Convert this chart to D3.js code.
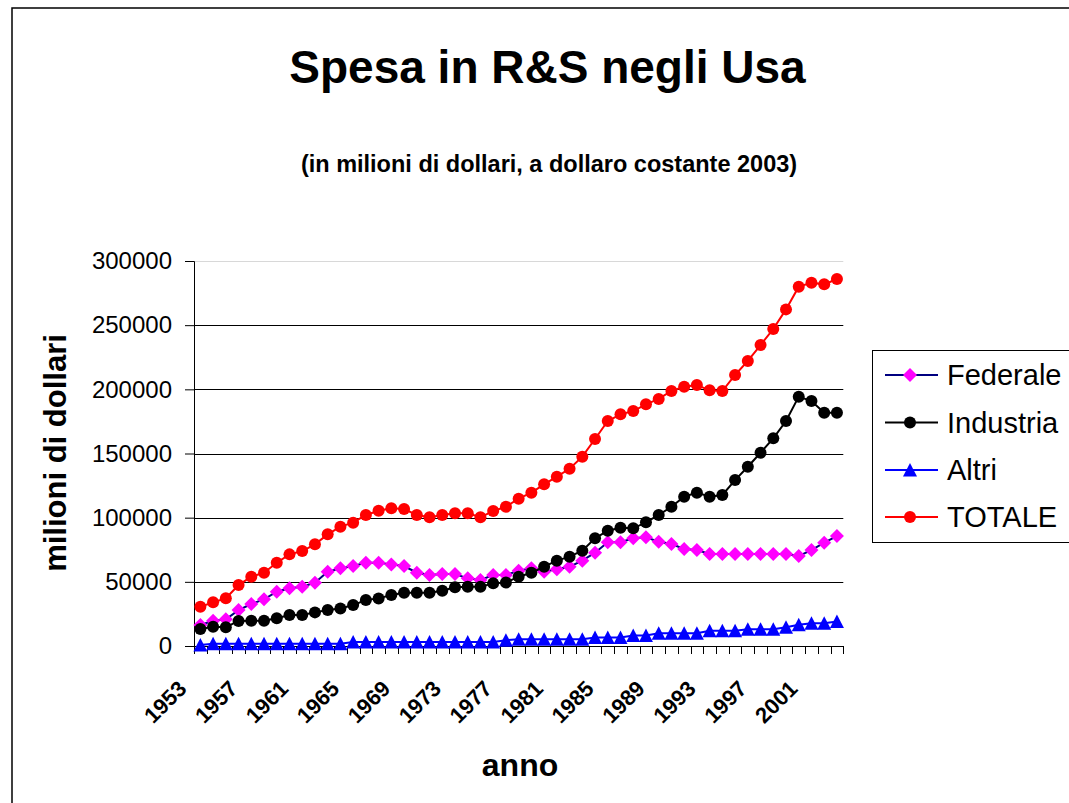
<!DOCTYPE html>
<html><head><meta charset="utf-8">
<script src="https://cdn.jsdelivr.net/npm/d3@7"></script>
<style>html,body{margin:0;padding:0;background:#fff;overflow:hidden}</style>
</head><body>
<svg id="c" width="1069" height="803"></svg>
<script>
const years = [1953,1954,1955,1956,1957,1958,1959,1960,1961,1962,1963,1964,1965,1966,1967,1968,1969,1970,1971,1972,1973,1974,1975,1976,1977,1978,1979,1980,1981,1982,1983,1984,1985,1986,1987,1988,1989,1990,1991,1992,1993,1994,1995,1996,1997,1998,1999,2000,2001,2002,2003];
const federale = [16400,19700,20800,28000,32700,36400,42300,45000,46200,49300,57900,60500,62300,64900,64900,63600,62300,57100,55300,56100,56100,52700,51400,55300,55300,58700,60500,57900,59800,61800,66500,72700,80800,80800,83900,84700,81300,79500,75600,74800,71700,71700,71700,71700,71700,71700,71700,70100,74800,80500,85700];
const industria = [13200,15000,14600,19500,19700,19700,21600,24200,24200,26200,28000,29300,31900,35800,37100,39700,41500,41500,41500,43100,45700,46200,46200,48800,49400,54000,57100,61800,66500,69600,74300,83900,89800,92200,91700,96400,102100,108500,116300,119500,116300,117700,129300,139700,150600,161800,175300,194300,190900,181800,181800];
const altri = [800,1800,1800,1800,1800,1800,1800,1800,1800,1800,1800,1800,3200,3200,3200,3200,3200,3200,3200,3200,3200,3200,3200,3200,4500,5300,5300,5300,5300,5300,5300,6600,6600,6600,8200,8200,10000,10000,10000,10000,11800,11800,11800,13100,13100,13100,14600,16500,17800,17800,19100];
const totale = [30600,34000,37200,47500,54000,57100,64900,71400,74000,79200,87000,93000,96100,102100,105400,107300,106700,102100,100300,102100,103400,103400,100300,105200,108500,114800,119500,126000,131900,138200,147500,161300,175300,180500,183100,188300,192500,198700,202100,203400,199200,198700,211200,222100,234500,247000,262300,280000,283100,281800,286000];
const yTicks = [0,50000,100000,150000,200000,250000,300000];
const xLabelYears = [1953,1957,1961,1965,1969,1973,1977,1981,1985,1989,1993,1997,2001];
const seriesNames = ["Federale","Industria","Altri","TOTALE"];

const series = [
  {name: seriesNames[0], values: federale, line: "#000080", fill: "#FF00FF", shape: "diamond"},
  {name: seriesNames[1], values: industria, line: "#000000", fill: "#000000", shape: "circle"},
  {name: seriesNames[2], values: altri, line: "#0000FF", fill: "#0000FF", shape: "triangle"},
  {name: seriesNames[3], values: totale, line: "#FF0000", fill: "#FF0000", shape: "circle"}
];

const svg = d3.select("#c");
const FONT = "'Liberation Sans', Arial, sans-serif";
const L = 194, R = 843.3, T = 261, B = 646;

// chart border
svg.append("rect").attr("x",12).attr("y",8).attr("width",1200).attr("height",900)
  .attr("fill","#fff").attr("stroke","#000").attr("stroke-width",1.5);

const x = d3.scaleBand().domain(years).range([L, R]);
const y = d3.scaleLinear().domain([0,300000]).range([B, T]);

// gridlines
svg.append("g").selectAll("line").data(yTicks.filter(d=>d>0)).join("line")
  .attr("x1",L).attr("x2",R)
  .attr("y1",d=>Math.round(y(d))+0.5).attr("y2",d=>Math.round(y(d))+0.5)
  .attr("stroke",d=>d===300000?"#d8d8d8":"#000").attr("stroke-width",1);

// y axis
const yAxis = svg.append("g").attr("transform",`translate(${L},0)`)
  .call(d3.axisLeft(y).tickValues(yTicks).tickSize(9).tickPadding(13).tickFormat(d3.format("d")));
yAxis.select(".domain").attr("stroke","#000");
yAxis.selectAll(".tick line").attr("stroke","#000");
yAxis.selectAll("text").attr("font-family",FONT).attr("font-size","24px").attr("fill","#000");

// x axis
const xAxisG = svg.append("g").attr("transform",`translate(0,${B})`);
xAxisG.append("line").attr("x1",L).attr("x2",R).attr("y1",0.5).attr("y2",0.5).attr("stroke","#000");
const bounds = years.map(d=>x(d)).concat([R]);
xAxisG.selectAll("line.tk").data(bounds).join("line").attr("class","tk")
  .attr("x1",d=>Math.round(d)+0.5).attr("x2",d=>Math.round(d)+0.5).attr("y1",0).attr("y2",8).attr("stroke","#000");
svg.append("g").selectAll("text").data(xLabelYears).join("text")
  .attr("transform",d=>`translate(${x(d)+x.bandwidth()/2-12.5},690) rotate(-45)`)
  .attr("text-anchor","end").attr("font-family",FONT).attr("font-weight","bold")
  .attr("font-size","22px").text(d=>d);

// series
const cx = d => x(d) + x.bandwidth()/2;
function marker(g, shape, fill, px, py) {
  if (shape === "circle") {
    g.append("circle").attr("cx",px).attr("cy",py).attr("r",6).attr("fill",fill);
  } else if (shape === "diamond") {
    const s = 7;
    g.append("path").attr("d",`M${px},${py-s}L${px+s},${py}L${px},${py+s}L${px-s},${py}Z`).attr("fill",fill);
  } else {
    const w = 7, h = 7;
    g.append("path").attr("d",`M${px},${py-h}L${px+w},${py+h-0.5}L${px-w},${py+h-0.5}Z`).attr("fill",fill);
  }
}
const lineGen = d3.line().x((d,i)=>cx(years[i])).y(d=>y(d));
series.forEach(s => {
  const g = svg.append("g");
  g.append("path").attr("d",lineGen(s.values)).attr("fill","none").attr("stroke",s.line).attr("stroke-width",2);
  s.values.forEach((v,i)=>marker(g, s.shape, s.fill, cx(years[i]), y(v)));
});

// titles
svg.append("text").attr("x",547.5).attr("y",83).attr("text-anchor","middle")
  .attr("font-family",FONT).attr("font-weight","bold").attr("font-size","46px").text("Spesa in R&S negli Usa");
svg.append("text").attr("x",549).attr("y",172).attr("text-anchor","middle")
  .attr("font-family",FONT).attr("font-weight","bold").attr("font-size","23.5px").text("(in milioni di dollari, a dollaro costante 2003)");
svg.append("text").attr("transform","translate(66,453) rotate(-90)").attr("text-anchor","middle")
  .attr("font-family",FONT).attr("font-weight","bold").attr("font-size","31px").text("milioni di dollari");
svg.append("text").attr("x",520).attr("y",776).attr("text-anchor","middle")
  .attr("font-family",FONT).attr("font-weight","bold").attr("font-size","32px").text("anno");

// legend
const lg = svg.append("g");
lg.append("rect").attr("x",872.5).attr("y",350.5).attr("width",300).attr("height",192)
  .attr("fill","#fff").attr("stroke","#000").attr("stroke-width",1);
const rowY = [375, 422.5, 470, 517];
series.forEach((s,i)=>{
  const ry = rowY[i];
  lg.append("line").attr("x1",885).attr("x2",938).attr("y1",ry).attr("y2",ry).attr("stroke",s.line).attr("stroke-width",2);
  marker(lg, s.shape, s.fill, 910, ry);
  lg.append("text").attr("x",947).attr("y",ry).attr("dy","0.36em")
    .attr("font-family",FONT).attr("font-size","29px").text(s.name);
});
</script>
</body></html>
